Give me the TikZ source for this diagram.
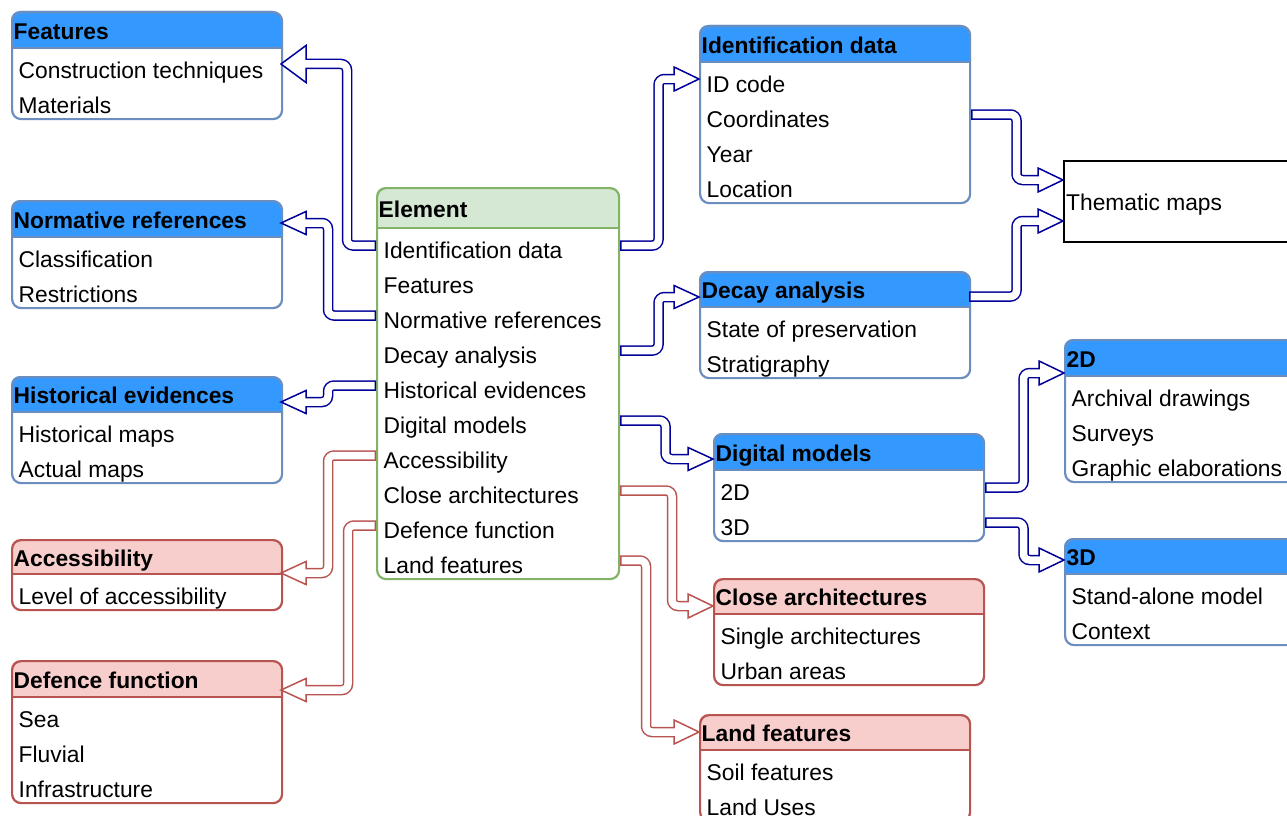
\documentclass[tikz,border=0pt]{standalone}
\usepackage{fontspec}
\setmainfont{Liberation Sans}
\usetikzlibrary{calc}
\definecolor{bhead}{HTML}{3399FF}
\definecolor{bline}{HTML}{6C8EBF}
\definecolor{rhead}{HTML}{F8CECC}
\definecolor{rline}{HTML}{B85450}
\definecolor{ghead}{HTML}{D5E8D4}
\definecolor{gline}{HTML}{82B366}
\definecolor{barrow}{HTML}{000099}
\definecolor{rarrow}{HTML}{B85450}
\tikzset{
  txt/.style={font=\fontsize{22.8pt}{27pt}\selectfont, inner sep=0pt, text height=25.5pt, text depth=0pt, anchor=west},
  ttl/.style={font=\fontsize{22.8pt}{27pt}\selectfont\bfseries, inner sep=0pt, text height=19.4pt, text depth=0pt, anchor=west},
}
% #1 name, #2 x, #3 y, #4 w, #5 header h, #6 colour prefix, #7 title, #8 rows
\newcommand{\ListBox}[8]{%
  \foreach \r [count=\i] in {#8} {\xdef\lbn{\i}}%
  \pgfmathsetmacro\lbH{#5+35*\lbn}%
  \fill[white, rounded corners=9pt] (#2,#3) rectangle ++(#4,\lbH);
  \begin{scope}
    \clip (#2-3,#3-3) rectangle ++(#4+6,#5+3);
    \fill[#6head, rounded corners=9pt] (#2,#3) rectangle ++(#4,\lbH);
  \end{scope}
  \node[draw=#6line, line width=2.2pt, rounded corners=9pt, inner sep=0pt, minimum width=#4pt, minimum height=\lbH pt, anchor=north west] (#1) at (#2,#3) {};
  \draw[#6line, line width=2.2pt] (#2,#3+#5) -- ++(#4,0);
  \node[ttl] (#1-t) at (#2+2.5,#3+#5/2) {#7};
  \foreach \r [count=\i] in {#8} {
    \node[txt] (#1-\i) at (#2+7.5,#3+#5+35*\i-17.5) {\r};
  }
}
% #1 colour, #2 path, #3 tip, #4 dx to head base, #5 half head height
\newcommand{\Flex}[5]{%
  \draw[#1, line width=10.5pt, rounded corners=6pt] #2;
  \draw[#1, line width=1.5pt, fill=white, line join=miter] (#3) -- ++(#4,-#5) -- ++(0,2*#5) -- cycle;
  \draw[white, line width=7.5pt, rounded corners=6pt, shorten <=1.5pt, shorten >=-1.5pt] #2;
}
\begin{document}
\begin{tikzpicture}[x=1pt,y=-1pt]
\useasboundingbox (0,0) rectangle (1287,816);
\clip (0,0) rectangle (1287,816);
\fill[white] (0,0) rectangle (1287,816);

\ListBox{feat}{11}{11}{270}{37}{b}{Features}{Construction techniques, Materials}
\ListBox{norm}{11}{200}{270}{37}{b}{Normative references}{Classification, Restrictions}
\ListBox{hist}{11}{376}{270}{36}{b}{Historical evidences}{Historical maps, Actual maps}
\ListBox{acc}{11}{539}{270}{35}{r}{Accessibility}{Level of accessibility}
\ListBox{def}{11}{660}{270}{37}{r}{Defence function}{Sea, Fluvial, Infrastructure}
\ListBox{el}{376}{187}{242}{41}{g}{Element}{Identification data, Features, Normative references, Decay analysis, Historical evidences, Digital models, Accessibility, Close architectures, Defence function, Land features}
\ListBox{id}{699}{25}{270}{37}{b}{Identification data}{ID code, Coordinates, Year, Location}
\ListBox{dec}{699}{271}{270}{36}{b}{Decay analysis}{State of preservation, Stratigraphy}
\ListBox{dig}{713}{433}{270}{37}{b}{Digital models}{2D, 3D}
\ListBox{dtwo}{1064}{339}{270}{37}{b}{2D}{Archival drawings, Surveys, Graphic elaborations}
\ListBox{dthree}{1064}{538}{270}{36}{b}{3D}{Stand-alone model, Context}
\ListBox{clo}{713}{578}{270}{36}{r}{Close architectures}{Single architectures, Urban areas}
\ListBox{land}{699}{714}{270}{36}{r}{Land features}{Soil features, Land Uses}

\node[draw=black, line width=1.5pt, inner sep=0pt, minimum width=260pt, minimum height=81pt, anchor=north west] (them) at (1063,160) {};
\node[font=\fontsize{22.8pt}{27pt}\selectfont, inner sep=0pt, anchor=base west] (them-t) at (1066,210.7) {Thematic maps};

% tips
\coordinate (tfeat) at (281,64);
\coordinate (tnorm) at (281,223);
\coordinate (thist) at (281,402);
\coordinate (tacc) at (281,573);
\coordinate (tdef) at (281,690);
\coordinate (tid) at (699,79);
\coordinate (tdec) at (699,297);
\coordinate (tdig) at (713,459);
\coordinate (tclo) at (713,606);
\coordinate (tland) at (699,732);
\coordinate (tthemA) at (1063,180);
\coordinate (tthemB) at (1063,221);
\coordinate (tdtwo) at (1064,373);
\coordinate (tdthree) at (1064,560);
\coordinate (sdec) at (969,296.5);

\Flex{barrow}{(el.west |- el-1) -| (347,64) -- ([xshift=25pt]tfeat)}{tfeat}{25}{18.5}
\Flex{barrow}{(el.west |- el-3) -| (328,223) -- ([xshift=25pt]tnorm)}{tnorm}{25}{11.5}
\Flex{barrow}{(el.west |- el-5) -| (328,402) -- ([xshift=25pt]thist)}{thist}{25}{11.5}
\Flex{rarrow}{(el.west |- el-7) -| (328,573) -- ([xshift=25pt]tacc)}{tacc}{25}{11.5}
\Flex{rarrow}{(el.west |- el-9) -| (348,690) -- ([xshift=25pt]tdef)}{tdef}{25}{11.5}

\Flex{barrow}{(el.east |- el-1) -| (658.5,79) -- ([xshift=-25pt]tid)}{tid}{-25}{12}
\Flex{barrow}{(el.east |- el-4) -| (658.5,297) -- ([xshift=-25pt]tdec)}{tdec}{-25}{11.5}
\Flex{barrow}{(el.east |- el-6) -| (665.5,459) -- ([xshift=-25pt]tdig)}{tdig}{-25}{11.5}
\Flex{rarrow}{(el.east |- el-8) -| (672,606) -- ([xshift=-25pt]tclo)}{tclo}{-25}{12}
\Flex{rarrow}{(el.east |- el-10) -| (646,732) -- ([xshift=-25pt]tland)}{tland}{-25}{12}

\Flex{barrow}{(id.east |- id-2) -| (1016.5,180) -- ([xshift=-25pt]tthemA)}{tthemA}{-25}{12}
\Flex{barrow}{(sdec) -| (1016.5,221) -- ([xshift=-25pt]tthemB)}{tthemB}{-25}{12}
\Flex{barrow}{(dig.east |- dig-1) -| (1023.5,373) -- ([xshift=-25pt]tdtwo)}{tdtwo}{-25}{12}
\Flex{barrow}{(dig.east |- dig-2) -| (1023.5,560) -- ([xshift=-25pt]tdthree)}{tdthree}{-25}{12}
\end{tikzpicture}
\end{document}
